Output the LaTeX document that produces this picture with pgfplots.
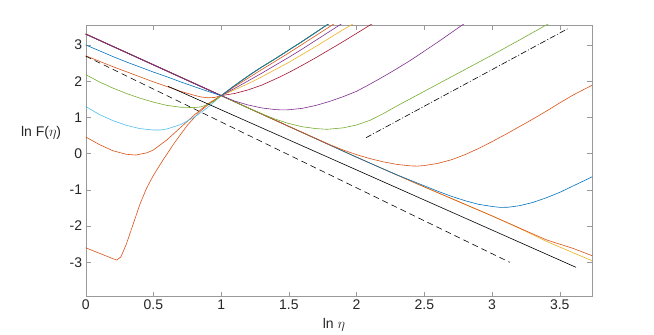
\documentclass[border=0pt]{standalone}
\usepackage{fontspec}
\setmainfont{Liberation Sans}
\usepackage{pgfplots}
\pgfplotsset{compat=1.18}

% MATLAB default line colours
\definecolor{mblue}{RGB}{0,114,189}
\definecolor{morange}{RGB}{217,83,25}
\definecolor{myellow}{RGB}{237,177,32}
\definecolor{mpurple}{RGB}{126,47,142}
\definecolor{mgreen}{RGB}{119,172,48}
\definecolor{mcyan}{RGB}{77,190,238}
\definecolor{mred}{RGB}{162,20,47}

\begin{document}
\begin{tikzpicture}
\begin{axis}[
  scale only axis,
  width=506.6pt, height=271.7pt,
  xmin=0, xmax=3.74, ymin=-3.95, ymax=3.55,
  xtick={0,0.5,1,1.5,2,2.5,3,3.5},
  ytick={-3,-2,-1,0,1,2,3},
  tick align=inside,
  major tick length=5pt,
  axis line style={draw=black!40},
  every tick/.style={draw=black!40},
  /pgf/number format/assume math mode=true,
  tick label style={font=\fontsize{14}{16}\selectfont, text=black!85},
  label style={font=\fontsize{14}{16}\selectfont, text=black!85},
  xlabel={ln $\eta$},
  ylabel={ln F($\eta$)},
  xlabel style={at={(rel axis cs:0.49,-0.104)}, anchor=center},
  ylabel style={rotate=-90, at={(rel axis cs:-0.0415,0.602)}, anchor=east},
  every axis plot/.append style={line width=0.6pt, no marks},
]
% curves that keep falling
\addplot[myellow] coordinates {
  (0,3.30)(1.0,1.60)(2.0,-0.10)(2.2,-0.43)(2.4,-0.76)(2.6,-1.08)(2.8,-1.40)
  (3.0,-1.72)(3.2,-2.06)(3.4,-2.42)(3.6,-2.74)(3.74,-2.96)};
\addplot[morange] coordinates {
  (0,3.30)(1.0,1.60)(2.0,-0.10)(2.2,-0.43)(2.4,-0.76)(2.6,-1.08)(2.8,-1.40)
  (3.0,-1.72)(3.2,-2.05)(3.4,-2.38)(3.6,-2.62)(3.74,-2.82)};
% curves with their minimum to the right of the crossing
\addplot[mblue] coordinates {
  (0,3.30)(1.0,1.60)(2.0,-0.10)(2.2,-0.43)(2.3,-0.59)(2.4,-0.74)(2.5,-0.89)
  (2.6,-1.04)(2.7,-1.18)(2.8,-1.30)(2.9,-1.40)(3.0,-1.46)(3.06,-1.485)(3.12,-1.48)
  (3.2,-1.44)(3.3,-1.35)(3.4,-1.22)(3.5,-1.07)(3.6,-0.89)(3.74,-0.64)};
\addplot[morange] coordinates {
  (0,3.30)(1.0,1.60)(1.5,0.75)(1.8,0.25)(1.9,0.10)(2.0,-0.03)(2.1,-0.14)
  (2.2,-0.23)(2.3,-0.30)(2.4,-0.34)(2.45,-0.345)(2.5,-0.33)(2.6,-0.27)(2.7,-0.17)
  (2.8,-0.03)(2.9,0.14)(3.0,0.33)(3.1,0.53)(3.2,0.74)(3.3,0.95)(3.4,1.17)
  (3.5,1.40)(3.6,1.62)(3.74,1.89)};
\addplot[mgreen] coordinates {
  (0,3.30)(1.0,1.60)(1.2,1.26)(1.3,1.10)(1.4,0.95)(1.5,0.83)(1.6,0.74)(1.7,0.69)
  (1.78,0.67)(1.9,0.71)(2.0,0.79)(2.1,0.92)(2.2,1.11)(2.3,1.32)(2.4,1.52)(2.5,1.72)
  (2.6,1.92)(2.8,2.32)(3.0,2.72)(3.2,3.13)(3.4,3.55)(3.45,3.65)};
% curves that leave the crossing upwards from the upper branch
\addplot[myellow] coordinates {
  (0,3.30)(1.0,1.60)(1.1,1.76)(1.21,1.95)(1.3,2.12)(1.4,2.32)(1.5,2.52)(1.6,2.74)
  (1.7,2.96)(1.8,3.19)(1.9,3.42)(1.96,3.55)(2.0,3.64)};
\addplot[mred] coordinates {
  (0,3.30)(1.0,1.60)(1.1,1.66)(1.2,1.76)(1.3,1.89)(1.43,2.11)(1.5,2.24)(1.6,2.44)
  (1.7,2.65)(1.8,2.87)(1.9,3.09)(2.0,3.32)(2.1,3.55)(2.15,3.66)};
\addplot[mpurple] coordinates {
  (0,3.30)(1.0,1.60)(1.1,1.80)(1.21,2.03)(1.3,2.22)(1.4,2.44)(1.5,2.66)(1.6,2.89)
  (1.7,3.13)(1.8,3.37)(1.875,3.55)(1.9,3.61)};
\addplot[mpurple] coordinates {
  (0,3.30)(1.0,1.60)(1.1,1.45)(1.2,1.34)(1.3,1.26)(1.4,1.215)(1.45,1.205)(1.5,1.21)
  (1.6,1.25)(1.7,1.33)(1.8,1.44)(1.9,1.57)(2.0,1.72)(2.1,1.92)(2.2,2.13)(2.3,2.35)
  (2.4,2.58)(2.5,2.83)(2.6,3.08)(2.7,3.34)(2.78,3.55)(2.82,3.65)};
% curves with their minimum to the left of the crossing
\addplot[morange] coordinates {
  (0,-2.60)(0.1,-2.75)(0.2,-2.90)(0.23,-2.94)(0.26,-2.85)(0.3,-2.50)(0.35,-1.95)
  (0.4,-1.40)(0.45,-0.95)(0.5,-0.60)(0.57,-0.18)(0.65,0.27)(0.75,0.78)(0.84,1.15)
  (0.92,1.40)(1.0,1.60)(1.1,1.88)(1.21,2.17)(1.3,2.39)(1.4,2.62)(1.5,2.86)
  (1.6,3.10)(1.7,3.35)(1.8,3.60)};
\addplot[morange] coordinates {
  (0,0.46)(0.1,0.25)(0.2,0.08)(0.3,-0.02)(0.37,-0.04)(0.45,0.02)(0.5,0.10)
  (0.6,0.38)(0.7,0.72)(0.8,1.06)(0.9,1.37)(1.0,1.60)(1.1,1.88)(1.21,2.17)
  (1.3,2.39)(1.4,2.62)(1.5,2.86)(1.6,3.10)(1.7,3.35)(1.8,3.60)};
\addplot[mcyan] coordinates {
  (0,1.30)(0.1,1.08)(0.2,0.91)(0.3,0.78)(0.4,0.69)(0.5,0.65)(0.55,0.65)(0.6,0.68)
  (0.7,0.80)(0.8,1.00)(0.9,1.27)(1.0,1.60)(1.1,1.88)(1.21,2.17)(1.3,2.39)
  (1.4,2.62)(1.5,2.86)(1.6,3.10)(1.7,3.35)(1.8,3.60)};
\addplot[mgreen] coordinates {
  (0,2.18)(0.1,1.98)(0.2,1.81)(0.3,1.66)(0.4,1.53)(0.5,1.42)(0.6,1.33)(0.7,1.28)
  (0.8,1.27)(0.85,1.29)(0.9,1.35)(0.95,1.45)(1.0,1.60)(1.1,1.88)(1.21,2.17)
  (1.3,2.39)(1.4,2.62)(1.5,2.86)(1.6,3.10)(1.7,3.35)(1.8,3.60)};
\addplot[morange] coordinates {
  (0,2.70)(0.1,2.55)(0.2,2.40)(0.3,2.26)(0.4,2.12)(0.5,1.98)(0.6,1.85)(0.7,1.72)
  (0.8,1.61)(0.85,1.565)(0.9,1.54)(0.95,1.55)(1.0,1.60)(1.1,1.85)(1.21,2.11)
  (1.3,2.32)(1.4,2.55)(1.5,2.78)(1.6,3.02)(1.7,3.26)(1.82,3.55)(1.85,3.62)};
\addplot[mblue] coordinates {
  (0,3.00)(0.1,2.84)(0.2,2.68)(0.3,2.53)(0.4,2.39)(0.5,2.25)(0.6,2.12)(0.7,1.98)
  (0.8,1.85)(0.9,1.72)(1.0,1.60)(1.1,1.88)(1.21,2.17)(1.3,2.39)(1.4,2.62)
  (1.5,2.86)(1.6,3.10)(1.7,3.35)(1.8,3.60)};
% reference slopes
\addplot[black] coordinates {(0.607,1.86)(3.62,-3.14)};
\addplot[black, dash pattern=on 6pt off 4pt] coordinates {(0,2.69)(3.13,-3.00)};
\addplot[black, dash pattern=on 6pt off 2pt on 1pt off 2pt] coordinates {(2.07,0.44)(3.565,3.46)};
\coordinate (bbsw) at (rel axis cs:-0.1692,-0.141);
\coordinate (bbne) at (rel axis cs:1.1218,1.092);
\end{axis}
\path (bbsw) rectangle (bbne);
\end{tikzpicture}
\end{document}
